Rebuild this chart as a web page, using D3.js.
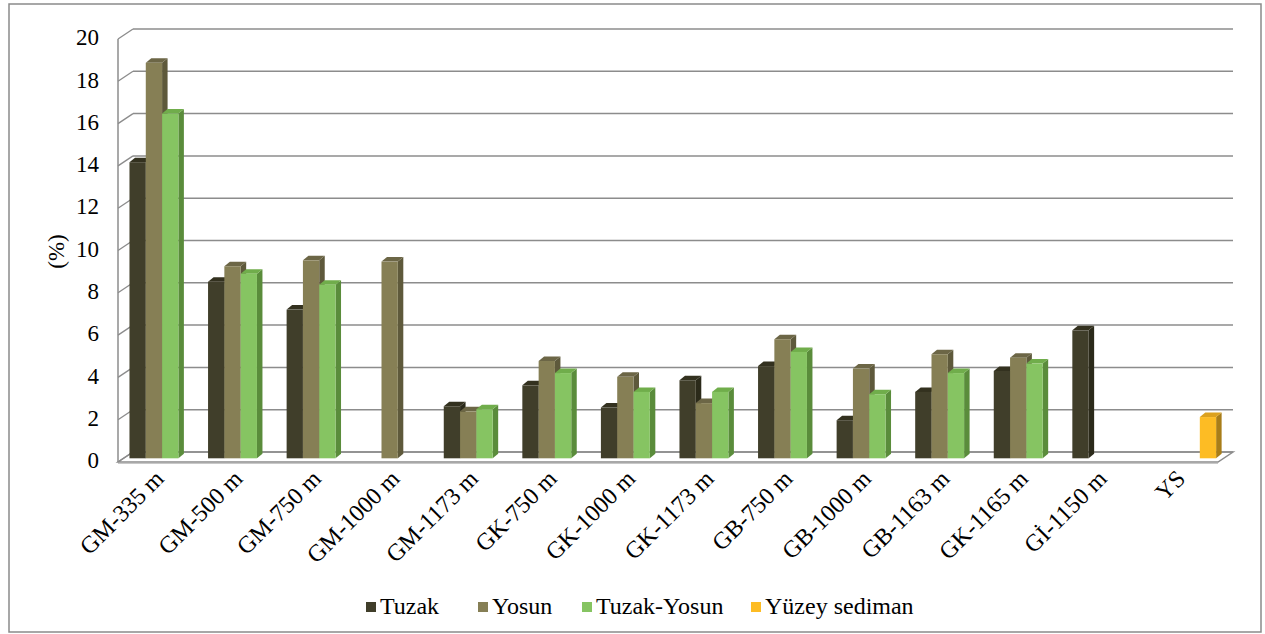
<!DOCTYPE html>
<html>
<head>
<meta charset="utf-8">
<script src="https://cdn.jsdelivr.net/npm/d3@7"></script>
<style>
  html, body { margin: 0; padding: 0; background: #fff; }
  svg { display: block; }
</style>
</head>
<body>
<svg id="chart" width="1265" height="634"></svg>
<script>
// Sampling stations (category axis)
const categories = ["GM-335 m", "GM-500 m", "GM-750 m", "GM-1000 m", "GM-1173 m", "GK-750 m",
  "GK-1000 m", "GK-1173 m", "GB-750 m", "GB-1000 m", "GB-1163 m", "GK-1165 m", "Gİ-1150 m", "YS"];

// Percentages per sample type (null = no sample)
const tuzak      = [14.0, 8.35, 7.03, null, 2.46, 3.45, 2.40, 3.69, 4.36, 1.80, 3.14, 4.13, 6.05, null];
const yosun      = [18.7, 9.08, 9.36, 9.30, 2.22, 4.60, 3.85, 2.61, 5.63, 4.24, 4.92, 4.76, null, null];
const tuzakYosun = [16.3, 8.73, 8.21, null, 2.32, 4.03, 3.14, 3.14, 5.03, 3.03, 4.03, 4.48, null, null];
const yuzey      = [null, null, null, null, null, null, null, null, null, null, null, null, null, 1.95];

const seriesNames = ["Tuzak", "Yosun", "Tuzak-Yosun", "Yüzey sediman"];
const yTicks = [0, 2, 4, 6, 8, 10, 12, 14, 16, 18, 20];

const seriesValues = [tuzak, yosun, tuzakYosun, yuzey];
const faces = [
  { front: "#403e2a", side: "#2b2a1a", top: "#33311f" },
  { front: "#867f55", side: "#5e593b", top: "#6c6646" },
  { front: "#86c462", side: "#5a8c3b", top: "#70ad4b" },
  { front: "#fdbc24", side: "#a87d19", top: "#dca11e" }
];
const FONT = '"Liberation Serif"';

const svg = d3.select("#chart");

// outer chart frame
svg.append("rect").attr("x", 9).attr("y", 4).attr("width", 1252).attr("height", 628)
  .attr("fill", "#fff").attr("stroke", "#8a8a8a").attr("stroke-width", 1.5);

// 3D box geometry: front plane and wall depth offset
const front = { left: 118, right: 1218 };
const depth = { dx: 15, dy: -10 };
const yFront = d3.scaleLinear().domain([0, 20]).range([462, 39]);
const yBack = v => yFront(v) + depth.dy;
// bars stand in the middle of the floor depth
const yBar = d3.scaleLinear().domain([0, 20]).range([458.3, 35.3]);

const x = d3.scaleBand().domain(categories).range([front.left + 4.8, front.right + 4.8])
  .paddingInner(0.17).paddingOuter(0.085);
const xs = d3.scaleBand().domain(seriesNames).range([0, x.bandwidth()]);
const xCat = d3.scaleBand().domain(categories).range([front.left, front.right]);

const gridColor = "#8c8c8c";
const grid = svg.append("g");

// floor
grid.append("path")
  .attr("d", `M${front.left},${yFront(0)} L${front.right},${yFront(0)} L${front.right + depth.dx},${yBack(0)} L${front.left + depth.dx},${yBack(0)} Z`)
  .attr("fill", "#fff").attr("stroke", gridColor).attr("stroke-width", 1.5);
grid.append("line")
  .attr("x1", front.left).attr("x2", front.right)
  .attr("y1", yFront(0) + 1.5).attr("y2", yFront(0) + 1.5)
  .attr("stroke", "#c8c8c8").attr("stroke-width", 1.2);

// back-wall gridlines with their side-wall diagonals
yTicks.forEach(t => {
  grid.append("line")
    .attr("x1", front.left + depth.dx).attr("x2", front.right + depth.dx)
    .attr("y1", yBack(t)).attr("y2", yBack(t))
    .attr("stroke", gridColor).attr("stroke-width", 1.5);
  grid.append("line")
    .attr("x1", front.left).attr("y1", yFront(t))
    .attr("x2", front.left + depth.dx).attr("y2", yBack(t))
    .attr("stroke", gridColor).attr("stroke-width", 1.3);
});
// side wall front edge
grid.append("line")
  .attr("x1", front.left).attr("x2", front.left)
  .attr("y1", yFront(20)).attr("y2", yFront(0))
  .attr("stroke", gridColor).attr("stroke-width", 1.5);

// value axis labels
svg.append("g").selectAll("text").data(yTicks).join("text")
  .attr("x", 99).attr("y", d => yFront(d) + 1)
  .attr("text-anchor", "end").attr("dominant-baseline", "middle")
  .style("font-family", FONT).style("font-size", "23px").attr("fill", "#000")
  .text(d => d);

svg.append("text")
  .attr("transform", `translate(59,${yFront(10) + 1}) rotate(-90)`)
  .attr("text-anchor", "middle").attr("dominant-baseline", "middle")
  .style("font-family", FONT).style("font-size", "23px").text("(%)");

// 3D columns
const bd = { dx: 5.5, dy: -4.5 };
const bars = svg.append("g");
categories.forEach((c, i) => {
  seriesValues.forEach((vals, s) => {
    const v = vals[i];
    if (v == null) return;
    const x0 = x(c) + xs(seriesNames[s]);
    const w = xs.bandwidth();
    const yt = yBar(v), yb = yBar(0);
    const f = faces[s];
    const g = bars.append("g");
    g.append("path")
      .attr("d", `M${x0 + w},${yt} L${x0 + w + bd.dx},${yt + bd.dy} L${x0 + w + bd.dx},${yb + bd.dy} L${x0 + w},${yb} Z`)
      .attr("fill", f.side);
    g.append("path")
      .attr("d", `M${x0},${yt} L${x0 + bd.dx},${yt + bd.dy} L${x0 + w + bd.dx},${yt + bd.dy} L${x0 + w},${yt} Z`)
      .attr("fill", f.top);
    g.append("rect")
      .attr("x", x0).attr("y", yt).attr("width", w).attr("height", yb - yt)
      .attr("fill", f.front);
  });
});

// category labels
svg.append("g").selectAll("text").data(categories).join("text")
  .attr("transform", d => `translate(${xCat(d) + xCat.bandwidth() / 2 + 8},${480}) rotate(-45)`)
  .attr("text-anchor", "end")
  .style("font-family", FONT).style("font-size", "24px").attr("fill", "#000")
  .text(d => d);

// legend
const legendItems = [
  { name: "Tuzak", x: 366 },
  { name: "Yosun", x: 478 },
  { name: "Tuzak-Yosun", x: 582 },
  { name: "Yüzey sediman", x: 751 }
];
const lg = svg.append("g");
legendItems.forEach((it, s) => {
  lg.append("rect").attr("x", it.x).attr("y", 602).attr("width", 10).attr("height", 10)
    .attr("fill", faces[s].front);
  lg.append("text").attr("x", it.x + 14).attr("y", 608).attr("dominant-baseline", "middle")
    .style("font-family", FONT).style("font-size", "24px").text(it.name);
});
</script>
</body>
</html>
